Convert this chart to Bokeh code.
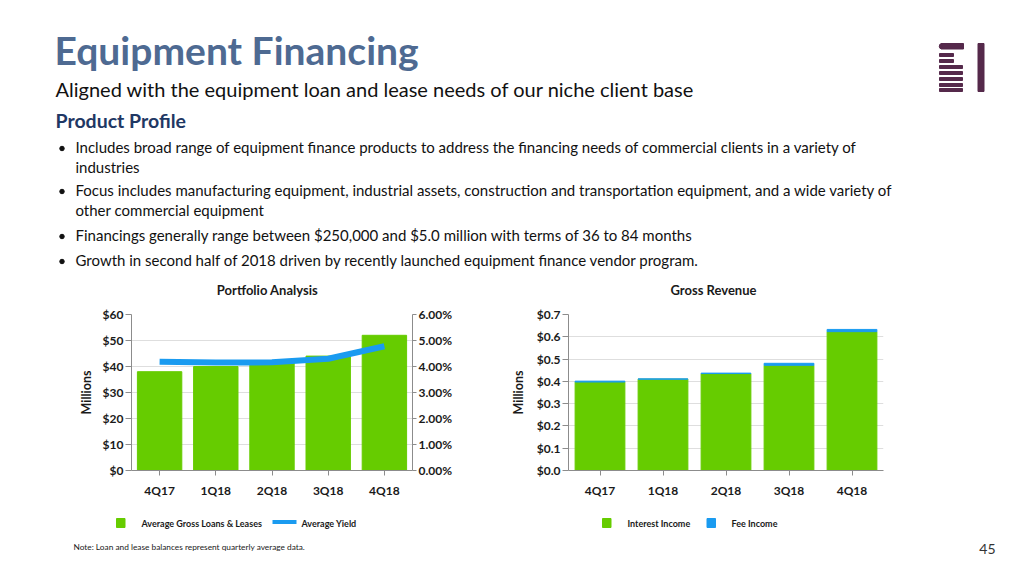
from bokeh.plotting import figure
from bokeh.models import Range1d, FactorRange, LinearAxis, PrintfTickFormatter, FixedTicker, ColumnDataSource
from bokeh.layouts import column, row
from bokeh.embed import file_html
from bokeh.resources import INLINE
from bokeh.core.properties import value

# ---------------- data ----------------
quarters = ["4Q17", "1Q18", "2Q18", "3Q18", "4Q18"]
avg_loans = [38.0, 40.0, 41.5, 44.0, 52.0]          # $ millions
avg_yield = [4.18, 4.15, 4.16, 4.30, 4.78]          # percent
interest_income = [0.397, 0.410, 0.435, 0.472, 0.623]  # $ millions
fee_income = [0.004, 0.001, 0.002, 0.009, 0.010]       # $ millions

loan_ticks = [0, 10, 20, 30, 40, 50, 60]
yield_ticks = [0, 1, 2, 3, 4, 5, 6]
rev_ticks = [0.0, 0.1, 0.2, 0.3, 0.4, 0.5, 0.6, 0.7]

title_text = "Equipment Financing"
subtitle_text = "Aligned with the equipment loan and lease needs of our niche client base"
section_text = "Product Profile"
bullet_lines = [
    ("Includes broad range of equipment finance products to address the financing needs of commercial clients in a variety of", True),
    ("industries", False),
    ("Focus includes manufacturing equipment, industrial assets, construction and transportation equipment, and a wide variety of", True),
    ("other commercial equipment", False),
    ("Financings generally range between $250,000 and $5.0 million with terms of 36 to 84 months", True),
    ("Growth in second half of 2018 driven by recently launched equipment finance vendor program.", True),
]
chart1_title = "Portfolio Analysis"
chart2_title = "Gross Revenue"
legend1_labels = ["Average Gross Loans & Leases", "Average Yield"]
legend2_labels = ["Interest Income", "Fee Income"]
footnote = "Note: Loan and lease balances represent quarterly average data."
page_number = "45"

FONT = "Lato"
GREEN = "#66CC00"
BLUE = "#1A9BF0"
GRAY_AXIS = "#8C8C8C"
GRID = "#DEDEDE"
TXT = "#1A1A1A"
PURPLE = "#55294B"


def blank(width, height, y0, y1):
    f = figure(width=width, height=height, x_range=Range1d(0, width), y_range=Range1d(y1, y0),
               output_backend="svg", toolbar_location=None, x_axis_type=None, y_axis_type=None,
               min_border=0, outline_line_color=None, background_fill_color="white")
    f.grid.visible = False
    return f


def label(f, x, y, s, size, color=TXT, bold=False, align="left"):
    f.text(x=[x], y=[y], text=[s], text_font=value(FONT), text_font_size=size,
           text_font_style="bold" if bold else "normal", text_color=color,
           text_align=align, text_baseline="middle")


# ---------------- header (page y 0..302) ----------------
hdr = blank(1016, 302, 0, 302)
label(hdr, 54, 49, title_text, "39px", color="#4E6A92", bold=True)
label(hdr, 55, 88, subtitle_text, "20px", color="#111111")
label(hdr, 55, 120, section_text, "19.5px", color="#1F3864", bold=True)
centers = [146.5, 166.5, 189.5, 209.5, 234.5, 259.5]
for (line, has_bullet), yc in zip(bullet_lines, centers):
    label(hdr, 75, yc, line, "15px", color="#111111")
    if has_bullet:
        hdr.scatter(x=[61.5], y=[yc + 1.5], size=4.5, marker="circle", color="#111111")
label(hdr, 267, 289.5, chart1_title, "13px", bold=True, align="center")
label(hdr, 713, 289.5, chart2_title, "13px", bold=True, align="center")

# logo
logo_l = [941, 939, 939, 939, 939, 939, 939, 939]
logo_r = [963, 953, 953, 962, 962, 962, 962, 962]
logo_t = [43, 53, 59, 65, 71, 77, 83, 88]
logo_b = [48.5, 56, 62, 68, 74, 80, 86, 91]
hdr.quad(left=logo_l, right=logo_r, top=logo_t, bottom=logo_b, color=PURPLE)
hdr.quad(left=[977.5], right=[983.5], top=[43], bottom=[91], color=PURPLE)
hdr.wedge(x=[941.5], y=[45.75], radius=2.75, start_angle=1.5708, end_angle=4.7124, color=PURPLE)


def style_axis(ax, tick_out, standoff):
    ax.axis_line_color = GRAY_AXIS
    ax.major_tick_line_color = GRAY_AXIS
    ax.major_tick_out = tick_out
    ax.major_tick_in = 0
    ax.minor_tick_line_color = None
    ax.major_label_text_font = FONT
    ax.major_label_text_font_size = "12px"
    ax.major_label_text_font_style = "bold"
    ax.major_label_text_color = TXT
    ax.major_label_standoff = standoff
    ax.axis_label_text_font = FONT
    ax.axis_label_text_font_size = "12.5px"
    ax.axis_label_text_font_style = "bold"
    ax.axis_label_text_color = TXT


# ---------------- chart 1 (page x 0..472, y 302..500) ----------------
p1 = figure(width=472, height=198, x_range=FactorRange(*quarters), y_range=Range1d(0, 60),
            output_backend="svg", toolbar_location=None, min_border_left=131, min_border_right=60,
            min_border_top=12, min_border_bottom=30, outline_line_color=None)
p1.extra_y_ranges = {"yield": Range1d(0, 6)}
p1.vbar(x=quarters, top=avg_loans, width=0.79, color=GREEN)
p1.line(x=quarters, y=avg_yield, y_range_name="yield", line_width=6, color=BLUE, line_cap="butt",
        line_join="round")
p1.yaxis.ticker = FixedTicker(ticks=loan_ticks)
p1.yaxis.formatter = PrintfTickFormatter(format="$%d")
p1.yaxis.axis_label = "Millions"
p1.yaxis.axis_label_standoff = 6
style_axis(p1.yaxis[0], 6, 2)
style_axis(p1.xaxis[0], 5, 7)
ax_r = LinearAxis(y_range_name="yield", ticker=FixedTicker(ticks=yield_ticks),
                  formatter=PrintfTickFormatter(format="%.2f%%"))
style_axis(ax_r, 4, 2)
p1.add_layout(ax_r, "right")
p1.xgrid.visible = False
p1.ygrid.grid_line_color = GRID
p1.ygrid.ticker = FixedTicker(ticks=loan_ticks)

# ---------------- chart 2 (page x 472..1016) ----------------
src = ColumnDataSource(dict(q=quarters, interest=interest_income, fee=fee_income))
p2 = figure(width=544, height=198, x_range=FactorRange(*quarters), y_range=Range1d(0, 0.7),
            output_backend="svg", toolbar_location=None, min_border_left=96, min_border_right=133,
            min_border_top=12, min_border_bottom=30, outline_line_color=None)
p2.vbar_stack(["interest", "fee"], x="q", width=0.79, color=[GREEN, BLUE], source=src)
p2.yaxis.ticker = FixedTicker(ticks=rev_ticks)
p2.yaxis.formatter = PrintfTickFormatter(format="$%.1f")
p2.yaxis.axis_label = "Millions"
p2.yaxis.axis_label_standoff = 8
style_axis(p2.yaxis[0], 6, 2)
style_axis(p2.xaxis[0], 5, 7)
p2.xgrid.visible = False
p2.ygrid.grid_line_color = GRID
p2.ygrid.ticker = FixedTicker(ticks=rev_ticks)

# ---------------- bottom (page y 500..568): legends, note, page number ----------------
bot = blank(1016, 68, 500, 568)
bot.quad(left=[116, 602], right=[124.5, 610.5], top=[518, 518], bottom=[527, 527], color=GREEN)
bot.quad(left=[706.5], right=[715], top=[518], bottom=[527], color=BLUE)
bot.segment(x0=[272], y0=[521.5], x1=[296], y1=[521.5], line_width=4, color=BLUE)
for xx, s in zip([141, 301, 627, 731], legend1_labels + legend2_labels):
    label(bot, xx, 523, s, "9px", bold=True)
label(bot, 73, 546, footnote, "8.3px")
label(bot, 995, 548, page_number, "14px", color="#333333", align="right")

layout = column(hdr, row(p1, p2), bot)
open("out.html", "w").write(file_html(layout, INLINE))
